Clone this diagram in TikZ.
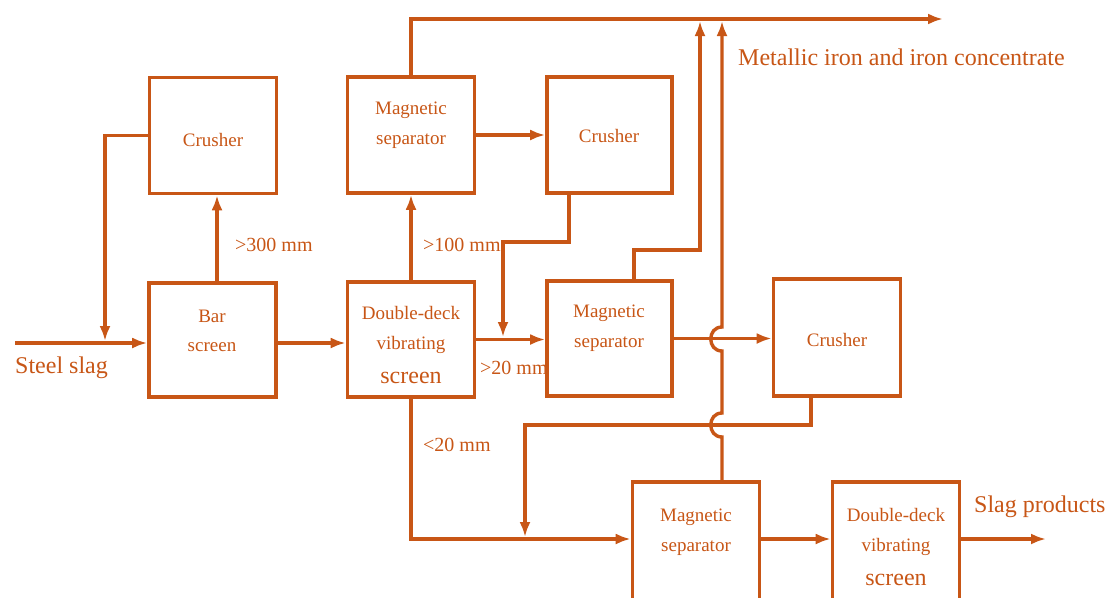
\documentclass[tikz,border=0pt]{standalone}
\usepackage{fontspec}
\setmainfont{Liberation Serif}
\usetikzlibrary{arrows.meta,calc}
\definecolor{rust}{RGB}{200,86,22}
\begin{document}
\begin{tikzpicture}[x=1pt,y=-1pt,
  box/.style={draw=rust,line width=3.6pt,minimum width=127pt,minimum height=116pt,inner sep=0pt},
  wire/.style={draw=rust,line width=3.4pt},
  arr/.style={wire,-{Latex[length=15pt,width=11pt]}},
  intxt/.style={text=rust,font=\fontsize{19}{22}\selectfont,inner sep=0pt,text height=13pt,text depth=4pt},
  bigin/.style={text=rust,font=\fontsize{24}{28}\selectfont,inner sep=0pt,text height=15pt,text depth=4pt},
  big/.style={text=rust,font=\fontsize{24}{28}\selectfont,inner sep=0pt,anchor=west},
  lab/.style={text=rust,font=\fontsize{20}{24}\selectfont,inner sep=0pt,anchor=west}]
\useasboundingbox (0,0) rectangle (1110,597);
\clip (0,0) rectangle (1110,597);
\fill[white] (0,0) rectangle (1110,597);

% boxes
\node[box] (c1) at (213,135.5) {};
\node[box,minimum height=114pt] (bar) at (212.5,340) {};
\node[box] (ms1) at (411,135) {};
\node[box,minimum width=125pt] (c2) at (609.5,135) {};
\node[box,minimum height=115pt] (dd1) at (411,339.5) {};
\node[box,minimum width=125pt,minimum height=115pt] (ms2) at (609.5,338.5) {};
\node[box,minimum height=117pt] (c3) at (837,337.5) {};
\node[box,minimum height=124pt] (ms3) at (696,544) {};
\node[box,minimum height=124pt] (dd2) at (896,544) {};

% box texts
\node[intxt] (c1t) at (213,142) {Crusher};
\node[intxt] (bart1) at (212,318) {Bar};
\node[intxt] (bart2) at (212,347) {screen};
\node[intxt] (ms1t1) at (411,110) {Magnetic};
\node[intxt] (ms1t2) at (411,140) {separator};
\node[intxt] (c2t) at (609,138) {Crusher};
\node[intxt] (dd1t1) at (411,315) {Double-deck};
\node[intxt] (dd1t2) at (411,345) {vibrating};
\node[bigin] (dd1t3) at (411,378) {screen};
\node[intxt] (ms2t1) at (609,313) {Magnetic};
\node[intxt] (ms2t2) at (609,343) {separator};
\node[intxt] (c3t) at (837,342) {Crusher};
\node[intxt] (ms3t1) at (696,517) {Magnetic};
\node[intxt] (ms3t2) at (696,547) {separator};
\node[intxt] (dd2t1) at (896,517) {Double-deck};
\node[intxt] (dd2t2) at (896,547) {vibrating};
\node[bigin] (dd2t3) at (896,580) {screen};

% labels
\node[big] (lslag) at (15,368) {Steel slag};
\node[lab] (l300) at (235,245) {>300 mm};
\node[lab] (l100) at (423,245) {>100 mm};
\node[lab] (l20a) at (480,368) {>20 mm};
\node[lab] (l20b) at (423,445) {<20 mm};
\node[big] (lmet) at (738,57) {Metallic iron and iron concentrate};
\node[big] (lprod) at (974,507) {Slag products};

% coordinates
\coordinate (sin) at (15,343);
\coordinate (j1) at (105,341);
\coordinate (bx) at (217,0);
\coordinate (top) at (943,19);
\coordinate (c2a) at (569,242);
\coordinate (j2) at (503,337);
\coordinate (ms2a) at (634,250);
\coordinate (up1) at (700,21);
\coordinate (up2) at (722,21);
\coordinate (c3a) at (811,425);
\coordinate (j3) at (525,537);
\coordinate (lowy) at (0,539);
\coordinate (out) at (1046,539);

% connectors
\draw[arr] (sin) -- (sin -| bar.west);
\draw[arr] (c1.west) -| (j1);
\draw[arr] (bar.north -| bx) -- (c1.south -| bx);
\draw[arr] (bar.east |- sin) -- (dd1.west |- sin);
\draw[arr] (dd1.north) -- (ms1.south);
\draw[arr] (ms1.north) |- (top);
\draw[arr] (ms1.east) -- (ms1.east -| c2.west);
\draw[arr] (c2.south -| c2a) -- (c2a) -| (j2);
\draw[arr] (dd1.east) -- (dd1.east -| ms2.west);
\draw[arr] (ms2.north -| ms2a) -- (ms2a) -| (up1);
\draw[arr] (ms2.east) -- (ms2.east -| c3.west);
\draw[arr] (ms3.north -| up2) -- (722,437) .. controls (707,437) and (707,413) .. (722,413)
  -- (722,351) .. controls (707,351) and (707,327) .. (722,327) -- (up2);
\draw[arr] (c3.south -| c3a) -- (c3a) -| (j3);
\draw[arr] (dd1.south) |- (ms3.west |- lowy);
\draw[arr] (ms3.east |- lowy) -- (dd2.west |- lowy);
\draw[arr] (dd2.east |- lowy) -- (out);
\end{tikzpicture}
\end{document}
